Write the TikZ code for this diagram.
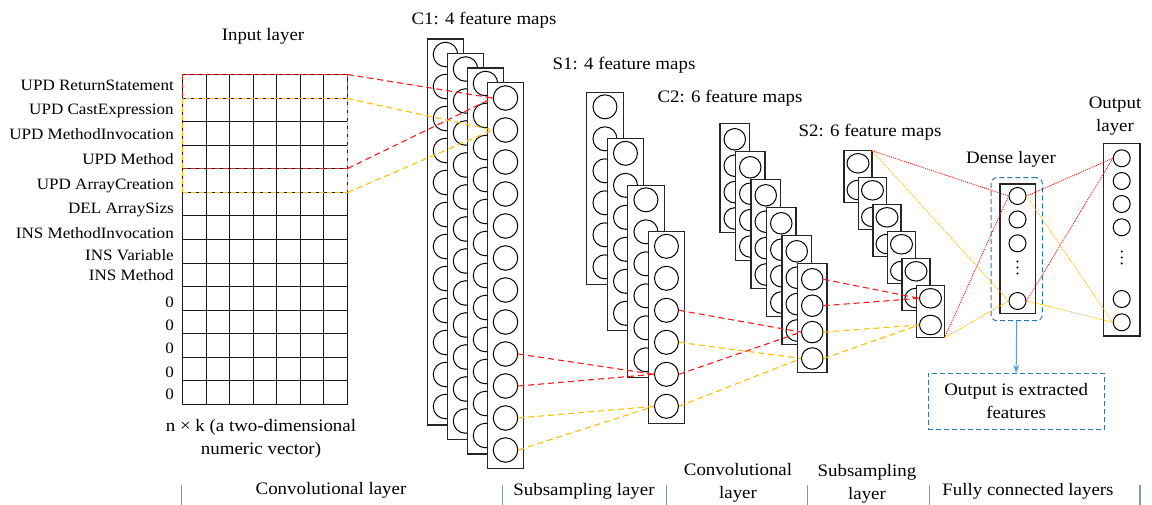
\documentclass[tikz,border=0pt]{standalone}
\usepackage{fontspec}
\setmainfont{Liberation Serif}[FakeStretch=1.08]
\usetikzlibrary{arrows.meta,shapes.geometric}

\definecolor{cred}{HTML}{FF1A1A}
\definecolor{corange}{HTML}{FFC000}
\definecolor{cblue}{HTML}{2E75B6}
\definecolor{carrow}{HTML}{5B9BD5}
\definecolor{csep}{HTML}{8497B0}

\tikzset{
  gridline/.style={draw=black!90, line width=1.6pt},
  maprect/.style={draw=black!85, line width=1.3pt, fill=white, inner sep=0pt, outer sep=0pt, rectangle},
  unit/.style={draw=black, line width=1pt, circle, inner sep=0pt, minimum size=#1},
  eunit/.style={draw=black, line width=1pt, ellipse, inner sep=0pt, minimum width=22, minimum height=19.5},
  dot/.style={fill=black, circle, inner sep=0pt, minimum size=2.4},
  winbox/.style={line width=1.3pt, dash pattern=on 5pt off 3pt, inner sep=0pt, outer sep=0pt, rectangle},
  reddash/.style={draw=cred, line width=1.1pt, dash pattern=on 6pt off 4pt},
  orgdash/.style={draw=corange, line width=1.1pt, dash pattern=on 6pt off 4pt},
  reddot/.style={draw=cred, line width=0.9pt, dash pattern=on 1pt off 1pt},
  orgdot/.style={draw=corange, line width=0.9pt, dash pattern=on 1pt off 1pt},
  label/.style={inner sep=0pt, align=center},
  rowlab/.style={inner sep=0pt, anchor=base east, font=\fontsize{15.8}{19}\selectfont},
  sepline/.style={draw=csep, line width=1.4pt},
}

% one feature map: name, left, top, width, height, units, first-unit offset, unit spacing
\newcommand{\featmap}[8]{%
  \node[maprect, minimum width=#4, minimum height=#5, anchor=north west] (#1) at (#2,#3) {};
  \foreach \k in {1,...,#6}
    \node[cellunit] (#1-\k) at ({#2+#4/2},{#3+#7+(\k-1)*#8}) {};
}

\begin{document}
\begin{tikzpicture}[x=1pt, y=-1pt, font=\fontsize{17.5}{23}\selectfont]
\useasboundingbox (0,0) rectangle (1152,504);

% ---------------- input matrix (14 x 7 cells) ----------------
\foreach \c in {0,...,7}
  \draw[gridline] ({round(182+\c*165/7)+0.5},74.5) -- ({round(182+\c*165/7)+0.5},404.5);
\foreach \r in {0,...,14}
  \draw[gridline] (182.5,{round(74+\r*330/14)+0.5}) -- (347.5,{round(74+\r*330/14)+0.5});

\node[winbox, draw=cred, minimum width=165, minimum height=94, anchor=north west] (win1) at (182.5,74.5) {};
\node[winbox, draw=corange, minimum width=165, minimum height=94, anchor=north west] (win2) at (182.5,98.5) {};

\foreach \t/\b [count=\n] in {UPD ReturnStatement/90.5, UPD CastExpression/114.5,
    UPD MethodInvocation/139.5, UPD Method/164.5, UPD ArrayCreation/189.5,
    DEL ArraySizs/213.5, INS MethodInvocation/238.5, INS Variable/260.5,
    INS Method/280.5, 0/307.5, 0/330.5, 0/353.5, 0/377.5, 0/399.5}
  \node[rowlab] (lab\n) at (174,\b) {\t};

\node[label] (inputtitle) at (263,36) {Input layer};
\node[label] (inputnote) at (261,439) {n × k (a two-dimensional\\numeric vector)};

% ---------------- C1: 4 feature maps ----------------
\begin{scope}[cellunit/.style={unit=24.5}]
  \featmap{c1a}{427.5}{39}{36}{386}{12}{15.5}{32}
  \featmap{c1b}{447.5}{53.5}{36}{386}{12}{15.5}{32}
  \featmap{c1c}{467.5}{68}{36}{386}{12}{15.5}{32}
  \featmap{c1d}{487.5}{82.5}{36}{386}{12}{15.5}{32}
\end{scope}
\node[label] (c1title) at (484,20) {C1: 4 feature maps};

% ---------------- S1: 4 feature maps ----------------
\begin{scope}[cellunit/.style={unit=24}]
  \featmap{s1a}{586.7}{92.3}{36.5}{192}{6}{14.5}{32}
  \featmap{s1b}{607.2}{138.8}{36.5}{192}{6}{14.5}{32}
  \featmap{s1c}{627.7}{185.3}{36.5}{192}{6}{14.5}{32}
  \featmap{s1d}{648.2}{231.8}{36.5}{192}{6}{14.5}{32}
\end{scope}
\node[label] (s1title) at (624,65) {S1: 4 feature maps};

% ---------------- C2: 6 feature maps ----------------
\begin{scope}[cellunit/.style={unit=21.5}]
  \featmap{c2a}{720}{123.3}{29.5}{109}{4}{16}{26.4}
  \featmap{c2b}{735.5}{151.3}{29.5}{109}{4}{16}{26.4}
  \featmap{c2c}{751}{179.3}{29.5}{109}{4}{16}{26.4}
  \featmap{c2d}{766.5}{207.3}{29.5}{109}{4}{16}{26.4}
  \featmap{c2e}{782}{235.3}{29.5}{109}{4}{16}{26.4}
  \featmap{c2f}{797.5}{263.3}{29.5}{109}{4}{16}{26.4}
\end{scope}
\node[label] (c2title) at (730,98) {C2: 6 feature maps};

% ---------------- S2: 6 feature maps ----------------
\begin{scope}[cellunit/.style={eunit}]
  \featmap{s2a}{844}{150.7}{28}{52}{2}{12.6}{26.7}
  \featmap{s2b}{858.5}{177.7}{28}{52}{2}{12.6}{26.7}
  \featmap{s2c}{873}{204.7}{28}{52}{2}{12.6}{26.7}
  \featmap{s2d}{887.5}{231.7}{28}{52}{2}{12.6}{26.7}
  \featmap{s2e}{902}{258.7}{28}{52}{2}{12.6}{26.7}
  \featmap{s2f}{916.5}{285.7}{28}{52}{2}{12.6}{26.7}
\end{scope}
\node[label] (s2title) at (870,132) {S2: 6 feature maps};

% ---------------- dense layer ----------------
\node[winbox, draw=cblue, line width=1pt, rounded corners=6pt, minimum width=51.3, minimum height=143, anchor=north west] (dbox) at (991,177.7) {};
\node[maprect, fill=none, minimum width=35.7, minimum height=129.3, anchor=north west] (dense) at (1000,184) {};
\node[unit=17] (d-1) at (1017.5,196) {};
\node[unit=17] (d-2) at (1017.5,219.5) {};
\node[unit=17] (d-3) at (1017.5,243.3) {};
\foreach \yy [count=\n] in {261.5,267.5,273.5}
  \node[dot] (d-dot\n) at (1017.5,\yy) {};
\node[unit=17] (d-4) at (1017.5,301) {};
\node[label] (densetitle) at (1011,159) {Dense layer};

% ---------------- output layer ----------------
\node[maprect, fill=none, minimum width=36.7, minimum height=192.7, anchor=north west] (out) at (1103.3,143.3) {};
\node[unit=17] (o-1) at (1121.7,158.3) {};
\node[unit=17] (o-2) at (1121.7,181) {};
\node[unit=17] (o-3) at (1121.7,204) {};
\node[unit=17] (o-4) at (1121.7,227.3) {};
\foreach \yy [count=\n] in {251.5,257.5,263.5}
  \node[dot] (o-dot\n) at (1121.7,\yy) {};
\node[unit=17] (o-5) at (1121.7,299) {};
\node[unit=17] (o-6) at (1121.7,322.3) {};
\node[label] (outtitle) at (1115,116.5) {Output\\layer};

% ---------------- extracted features ----------------
\node[winbox, draw=cblue, line width=1pt, minimum width=176.3, minimum height=56.3, anchor=north west] (feat) at (928,373) {};
\node[label] (feattext) at (feat.center) {Output is extracted\\features};
\draw[carrow, line width=1pt, -{Stealth[length=8pt,width=6pt]}] (dbox.south) -- (feat.north);

% ---------------- receptive-field connectors ----------------
\draw[reddash] (win1.north east) -- (c1d-1.west);
\draw[reddash] (win1.south east) -- (c1d-1.west);
\draw[orgdash] (win2.north east) -- (c1d-2.west);
\draw[orgdash] (win2.south east) -- (c1d-2.west);

\draw[reddash] (c1d-9.east) -- (s1d-5.west);
\draw[reddash] (c1d-10.east) -- (s1d-5.west);
\draw[orgdash] (c1d-11.east) -- (s1d-6.west);
\draw[orgdash] (c1d-12.east) -- (s1d-6.west);

\draw[reddash] (s1d-3.east) -- (c2f-3.west);
\draw[reddash] (s1d-5.east) -- (c2f-3.west);
\draw[orgdash] (s1d-4.east) -- (c2f-4.west);
\draw[orgdash] (s1d-6.east) -- (c2f-4.west);

\draw[reddash] (c2f-1.east) -- (s2f-1.west);
\draw[reddash] (c2f-2.east) -- (s2f-1.west);
\draw[orgdash] (c2f-3.east) -- (s2f-2.west);
\draw[orgdash] (c2f-4.east) -- (s2f-2.west);

% ---------------- fully connected links ----------------
\draw[reddot] (s2a.north east) -- (d-1.west);
\draw[orgdot] (s2a.north east) -- (d-4.west);
\draw[reddot] (s2f.south east) -- (d-1.west);
\draw[orgdot] (s2f.south east) -- (d-4.west);
\draw[reddot] (d-1.east) -- (o-1.west);
\draw[orgdot] (d-1.east) -- (o-6.west);
\draw[reddot] (d-4.east) -- (o-1.west);
\draw[orgdot] (d-4.east) -- (o-6.west);

% ---------------- layer captions ----------------
\foreach \x in {181.7,502.3,666.5,807.7,929.3,1140}
  \draw[sepline] (\x,485) -- (\x,505);
\node[label] (cap1) at (331,490) {Convolutional layer};
\node[label] (cap2) at (584,491) {Subsampling layer};
\node[label] (cap3) at (738,483) {Convolutional\\layer};
\node[label] (cap4) at (867,484) {Subsampling\\layer};
\node[label] (cap5) at (1028,491.5) {Fully connected layers};
\end{tikzpicture}
\end{document}
